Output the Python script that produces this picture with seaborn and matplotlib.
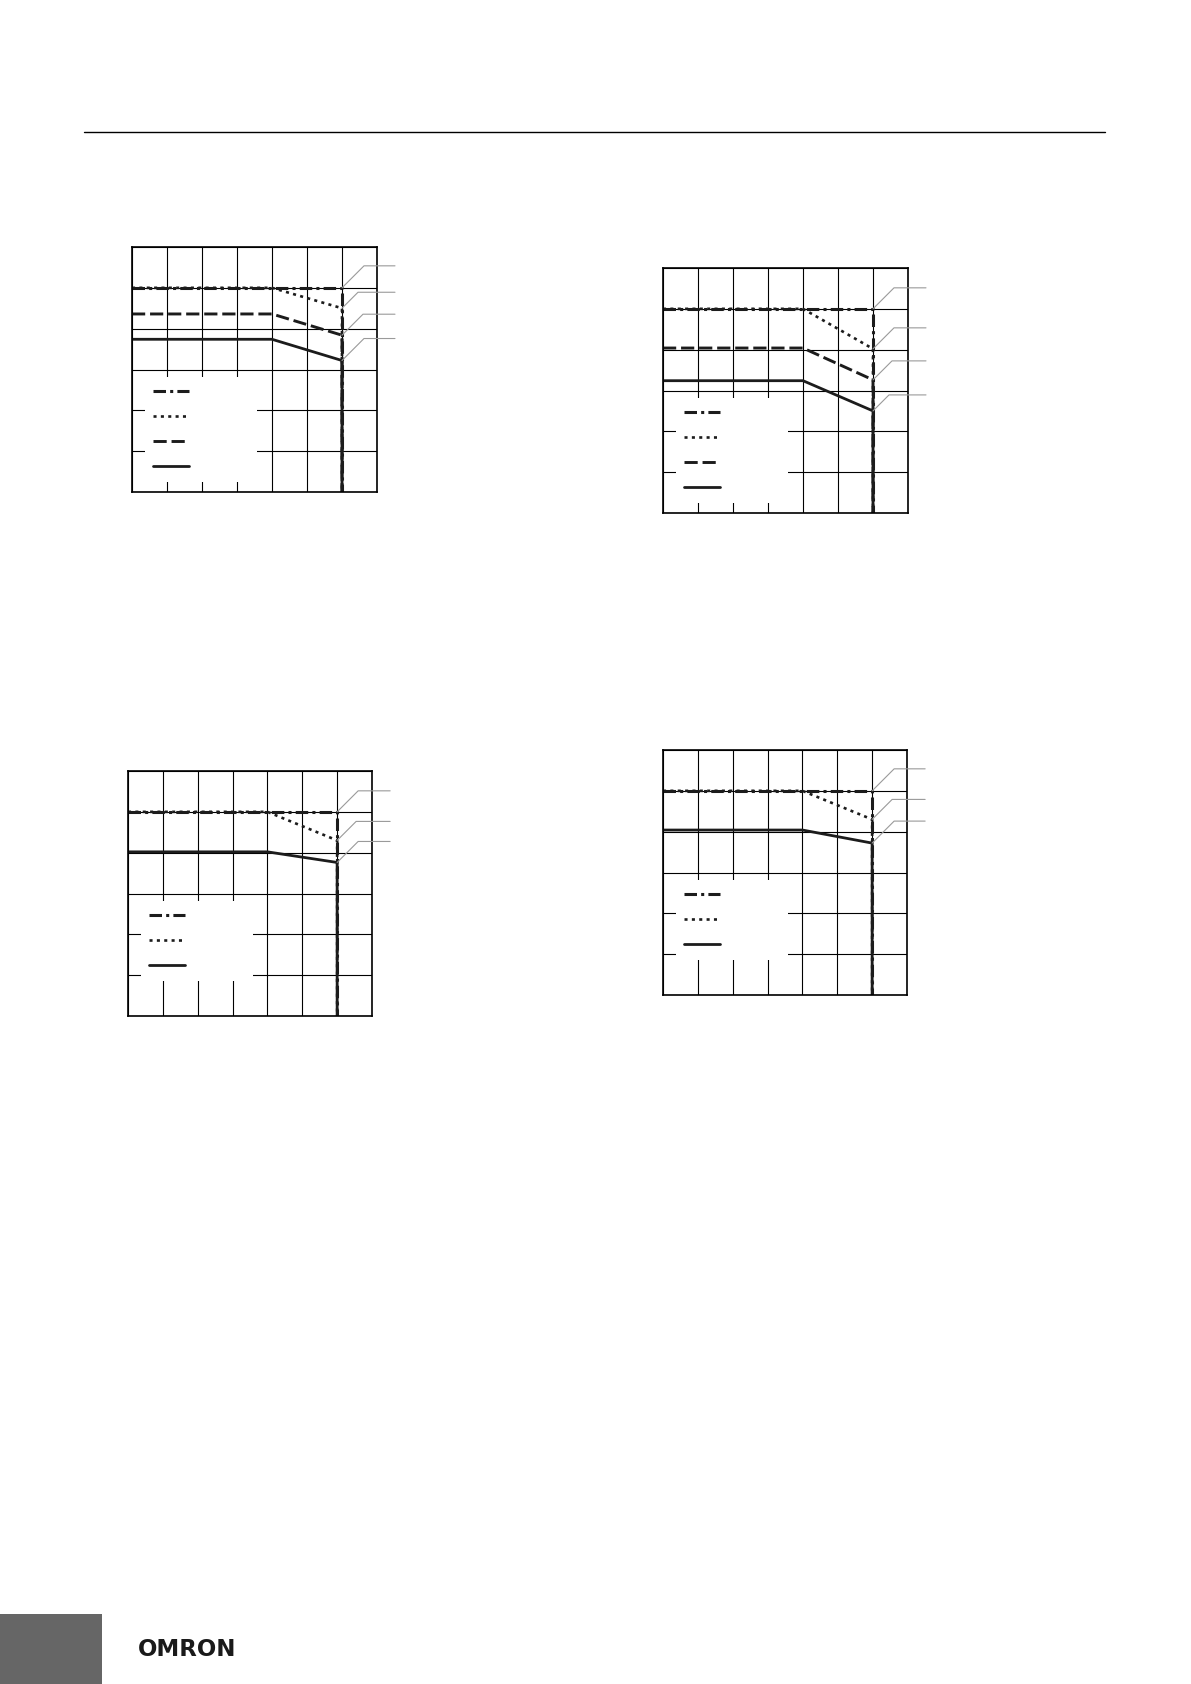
import numpy as np
import pandas as pd
import seaborn as sns
import matplotlib as mpl
import matplotlib.pyplot as plt
from matplotlib.lines import Line2D
from matplotlib.patches import Rectangle

# breakpoints on the temperature axis: flat part, knee, cut-off, drop to zero
temp = [-40, 40, 80, 80]
x_ticks = [-40, -20, 0, 20, 40, 60, 80, 100]
y_ticks = [0, 5, 10, 15, 20, 25, 30]

# top left chart
c1_dashdot = [25, 25, 25, 0]
c1_dotted = [25, 25, 22.5, 0]
c1_dashed = [21.8, 21.8, 19.2, 0]
c1_solid = [18.7, 18.7, 16.1, 0]

# top right chart
c2_dashdot = [25, 25, 25, 0]
c2_dotted = [25, 25, 20.1, 0]
c2_dashed = [20.2, 20.2, 16.3, 0]
c2_solid = [16.2, 16.2, 12.5, 0]

# bottom left chart
c3_dashdot = [25, 25, 25, 0]
c3_dotted = [25, 25, 21.5, 0]
c3_solid = [20.1, 20.1, 18.8, 0]

# bottom right chart
c4_dashdot = [25, 25, 25, 0]
c4_dotted = [25, 25, 21.5, 0]
c4_solid = [20.2, 20.2, 18.6, 0]

sns.set_style("white")
mpl.rcParams['lines.scale_dashes'] = False
plt.rcParams['font.family'] = ['DejaVu Sans']

ink = '#1c1c1c'
styles = {
    'dashdot': dict(linestyle=(0, (9, 3, 2.2, 3)), lw=2.2),
    'dotted': dict(linestyle=(0, (2.2, 3.1)), lw=1.9),
    'dashed': dict(linestyle=(0, (9.5, 3.5)), lw=2.1),
    'solid': dict(linestyle='-', lw=2.0),
}

fig = plt.figure(figsize=(11.91, 16.84), dpi=100)
W, H = 1191, 1684

def px_rect(x0, y0, x1, y1):
    return [x0 / W, 1 - y1 / H, (x1 - x0) / W, (y1 - y0) / H]

panels = [
    (px_rect(132, 247, 377, 492),
     [('dashdot', c1_dashdot), ('dotted', c1_dotted), ('dashed', c1_dashed), ('solid', c1_solid)],
     [22, 16, 21, 22]),
    (px_rect(663, 268, 908, 513),
     [('dashdot', c2_dashdot), ('dotted', c2_dotted), ('dashed', c2_dashed), ('solid', c2_solid)],
     [21, 21, 19, 16]),
    (px_rect(128, 771, 372, 1016),
     [('dashdot', c3_dashdot), ('dotted', c3_dotted), ('solid', c3_solid)],
     [21, 19, 21]),
    (px_rect(663, 750, 907, 995),
     [('dashdot', c4_dashdot), ('dotted', c4_dotted), ('solid', c4_solid)],
     [22, 20, 22]),
]

blank = '\u00a0' * 11

for rect, series, dys in panels:
    ax = fig.add_axes(rect)
    handles = []
    for name, vals in series[::-1]:
        sns.lineplot(x=temp, y=vals, ax=ax, estimator=None, sort=False,
                     color=ink, legend=False, label=blank, **styles[name])
        handles.append(ax.get_lines()[-1])
    handles = handles[::-1]

    ax.set_xlim(x_ticks[0], x_ticks[-1])
    ax.set_ylim(y_ticks[0], y_ticks[-1])
    ax.set_xticks(x_ticks)
    ax.set_yticks(y_ticks)
    ax.set_xticklabels([])
    ax.set_yticklabels([])
    ax.set_xlabel('')
    ax.set_ylabel('')
    ax.tick_params(length=0)
    ax.grid(True, color='black', lw=0.8)
    ax.set_axisbelow(True)
    for sp in ax.spines.values():
        sp.set_visible(True)
        sp.set_color('black')
        sp.set_linewidth(1.2)

    # leader lines towards the (missing) curve labels
    for (name, vals), dy in zip(series, dys):
        ax.annotate('', xy=(temp[2], vals[2]), xycoords='data',
                    xytext=(53, dy), textcoords='offset pixels',
                    annotation_clip=False,
                    arrowprops=dict(arrowstyle='-', color='#9a9a9a', lw=0.8,
                                    shrinkA=0, shrinkB=0,
                                    connectionstyle='angle,angleA=0,angleB=45,rad=0'))

    leg = ax.legend(handles, [blank] * len(handles), loc='upper left',
                    bbox_to_anchor=(0.053, 0.47), borderaxespad=0,
                    fontsize=10, handlelength=2.6, handletextpad=0.8,
                    labelspacing=0.79, borderpad=0.6, frameon=True,
                    fancybox=False, framealpha=1)
    leg.get_frame().set_facecolor('white')
    leg.get_frame().set_edgecolor('none')

# header rule
fig.add_artist(Line2D([84 / W, 1105 / W], [1 - 132.3 / H] * 2, color='black', lw=1.0))

# footer
fig.add_artist(Rectangle((0, 0), 101.7 / W, 70 / H, transform=fig.transFigure,
                         color='#666666', lw=0))
fig.text(187 / W, 1 - 1649 / H, 'OMRON', ha='center', va='center',
         fontsize=16.5, fontweight='bold', color='#1a1a1a')

fig.savefig('out.png', dpi=100)
